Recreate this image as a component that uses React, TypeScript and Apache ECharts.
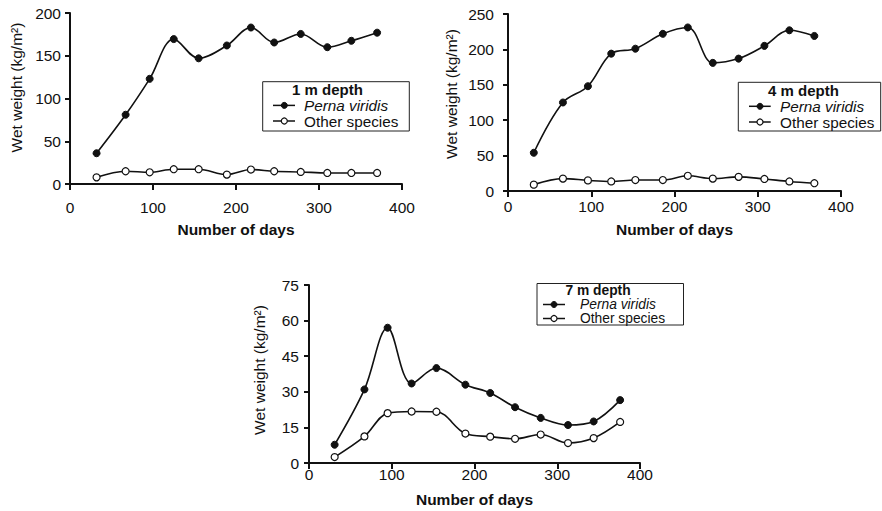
import React, { useEffect, useRef } from "react";
import * as echarts from "echarts";

const FONT = "'Liberation Sans', Arial, Helvetica, sans-serif";
const INK = "#111";
const FS = 15.5;

// ---- data ----
const days1 = [32, 67, 96, 125, 155, 189, 218, 246, 278, 310, 339, 370];
const perna1 = [36, 81, 123, 169.5, 147, 162, 183, 165.5, 175.5, 160, 167.5, 177];
const others1 = [7.8, 14.9, 13.7, 17.3, 17.3, 11, 16.9, 14.9, 14.1, 12.9, 12.9, 12.9];

const days2 = [31, 66, 96, 124, 153, 186, 216, 246, 277, 308, 338, 368];
const perna2 = [54, 125, 148, 194, 201, 222, 231, 181, 187, 205, 227, 219];
const others2 = [9, 17.5, 15, 13.5, 15.5, 15.5, 21.5, 17.5, 20, 17, 13.5, 11];

const days3 = [31, 67, 95, 124, 154, 189, 219, 249, 280, 313, 344, 376];
const perna3 = [7.7, 31, 57, 33.5, 40, 33, 29.5, 23.5, 19, 16, 17.5, 26.5];
const others3 = [2.5, 11.2, 21, 21.7, 21.6, 12.4, 11.1, 10.2, 12, 8.4, 10.5, 17.3];

const depthLabels = ["1 m depth", "4 m depth", "7 m depth"];
const seriesNames = ["Perna viridis", "Other species"];
const xTitle = "Number of days";
const yTitle = "Wet weight (kg/m²)";
const yMax = [200, 250, 75];
const yStep = [50, 50, 15];

function pairs(xs: number[], ys: number[]) {
  return xs.map((x, i) => [x, ys[i]]);
}

export default function App() {
  const ref = useRef<HTMLDivElement>(null);

  useEffect(() => {
    if (!ref.current) return;
    const chart = echarts.init(ref.current, null, { renderer: "svg" });

    const grids = [
      { left: 70, top: 13, width: 332, height: 171 },
      { left: 508, top: 14, width: 333, height: 177 },
      { left: 309, top: 285, width: 331, height: 178 },
    ];
    const xLabelMargin = [15, 7, 3];
    const xNameGap = [37, 30, 28];
    const yLabelMargin = [9, 14, 10];

    const textStyle = { color: INK, fontFamily: FONT, fontSize: FS };

    const xAxis = grids.map((_, i) => ({
      type: "value",
      gridIndex: i,
      min: 0,
      max: 400,
      interval: 100,
      axisLine: { show: true, onZero: false, lineStyle: { color: INK, width: 2 } },
      axisTick: { show: true, length: 6, lineStyle: { color: INK, width: 2 } },
      axisLabel: { ...textStyle, margin: xLabelMargin[i] },
      splitLine: { show: false },
      name: xTitle,
      nameLocation: "middle",
      nameGap: xNameGap[i],
      nameTextStyle: { ...textStyle, fontWeight: "bold" },
    }));

    const yAxis = grids.map((_, i) => ({
      type: "value",
      gridIndex: i,
      min: 0,
      max: yMax[i],
      interval: yStep[i],
      axisLine: { show: true, onZero: false, lineStyle: { color: INK, width: 2 } },
      axisTick: { show: true, length: 5, lineStyle: { color: INK, width: 2 } },
      axisLabel: { ...textStyle, margin: yLabelMargin[i] },
      splitLine: { show: false },
    }));

    const dataSets = [
      [pairs(days1, perna1), pairs(days1, others1)],
      [pairs(days2, perna2), pairs(days2, others2)],
      [pairs(days3, perna3), pairs(days3, others3)],
    ];

    const series: any[] = [];
    dataSets.forEach((ds, gi) => {
      ds.forEach((data, si) => {
        series.push({
          type: "line",
          name: seriesNames[si],
          xAxisIndex: gi,
          yAxisIndex: gi,
          data,
          smooth: 0.35,
          symbol: "circle",
          symbolSize: 7,
          showAllSymbol: true,
          lineStyle: { color: INK, width: 1.6 },
          itemStyle:
            si === 0
              ? { color: INK, borderColor: INK, borderWidth: 1 }
              : { color: "#fff", borderColor: INK, borderWidth: 1.2 },
          z: si === 0 ? 3 : 2,
        });
      });
    });

    // legend boxes (drawn as graphics)
    const legends = [
      { box: [262.7, 81.7, 146.6, 49.3], title: [327.5, 89.6], lx: [273, 295], cx: 284.3, tx: 304, rows: [105.4, 121], tfs: 15, fs: 15.3 },
      { box: [738.3, 82.3, 142.4, 48.7], title: [803.5, 90.5], lx: [749, 770.7], cx: 760, tx: 780, rows: [106.3, 122], tfs: 15, fs: 15.3 },
      { box: [537, 283.5, 146.5, 41.5], title: [598, 290.5], lx: [543, 565], cx: 554, tx: 580, rows: [304.5, 318.5], tfs: 13.8, fs: 13.8 },
    ];
    const graphic: any[] = [];
    legends.forEach((lg, i) => {
      graphic.push({
        type: "rect",
        shape: { x: lg.box[0], y: lg.box[1], width: lg.box[2], height: lg.box[3] },
        style: { fill: "#fff", stroke: "#222", lineWidth: 1 },
        z: 10,
      });
      graphic.push({
        type: "text",
        x: lg.title[0],
        y: lg.title[1],
        style: {
          text: depthLabels[i],
          fill: INK,
          font: `bold ${lg.tfs}px ${FONT}`,
          align: "center",
          verticalAlign: "middle",
        },
        z: 11,
      });
      lg.rows.forEach((ry, si) => {
        graphic.push({
          type: "line",
          shape: { x1: lg.lx[0], y1: ry, x2: lg.lx[1], y2: ry },
          style: { stroke: INK, lineWidth: 1.5 },
          z: 11,
        });
        graphic.push({
          type: "circle",
          shape: { cx: lg.cx, cy: ry, r: 3 },
          style: si === 0 ? { fill: INK, stroke: INK, lineWidth: 1 } : { fill: "#fff", stroke: INK, lineWidth: 1.2 },
          z: 12,
        });
        graphic.push({
          type: "text",
          x: lg.tx,
          y: ry,
          style: {
            text: seriesNames[si],
            fill: INK,
            font: `${si === 0 ? "italic " : ""}${lg.fs}px ${FONT}`,
            align: "left",
            verticalAlign: "middle",
          },
          z: 11,
        });
      });
    });

    // rotated y-axis titles
    const yTitlePos = [
      [16.5, 87.5],
      [451, 94],
      [259.7, 370],
    ];
    yTitlePos.forEach((p) => {
      graphic.push({
        type: "text",
        x: p[0],
        y: p[1],
        rotation: Math.PI / 2,
        style: {
          text: yTitle,
          fill: INK,
          font: `${FS}px ${FONT}`,
          align: "center",
          verticalAlign: "middle",
        },
      });
    });

    chart.setOption({
      animation: false,
      backgroundColor: "#fff",
      textStyle: { fontFamily: FONT },
      grid: grids.map((g) => ({ ...g, containLabel: false })),
      xAxis,
      yAxis,
      series,
      graphic,
    });

    return () => chart.dispose();
  }, []);

  return (
    <div
      ref={ref}
      style={{ position: "fixed", left: 0, top: 0, width: 882, height: 511, background: "#fff" }}
    />
  );
}
